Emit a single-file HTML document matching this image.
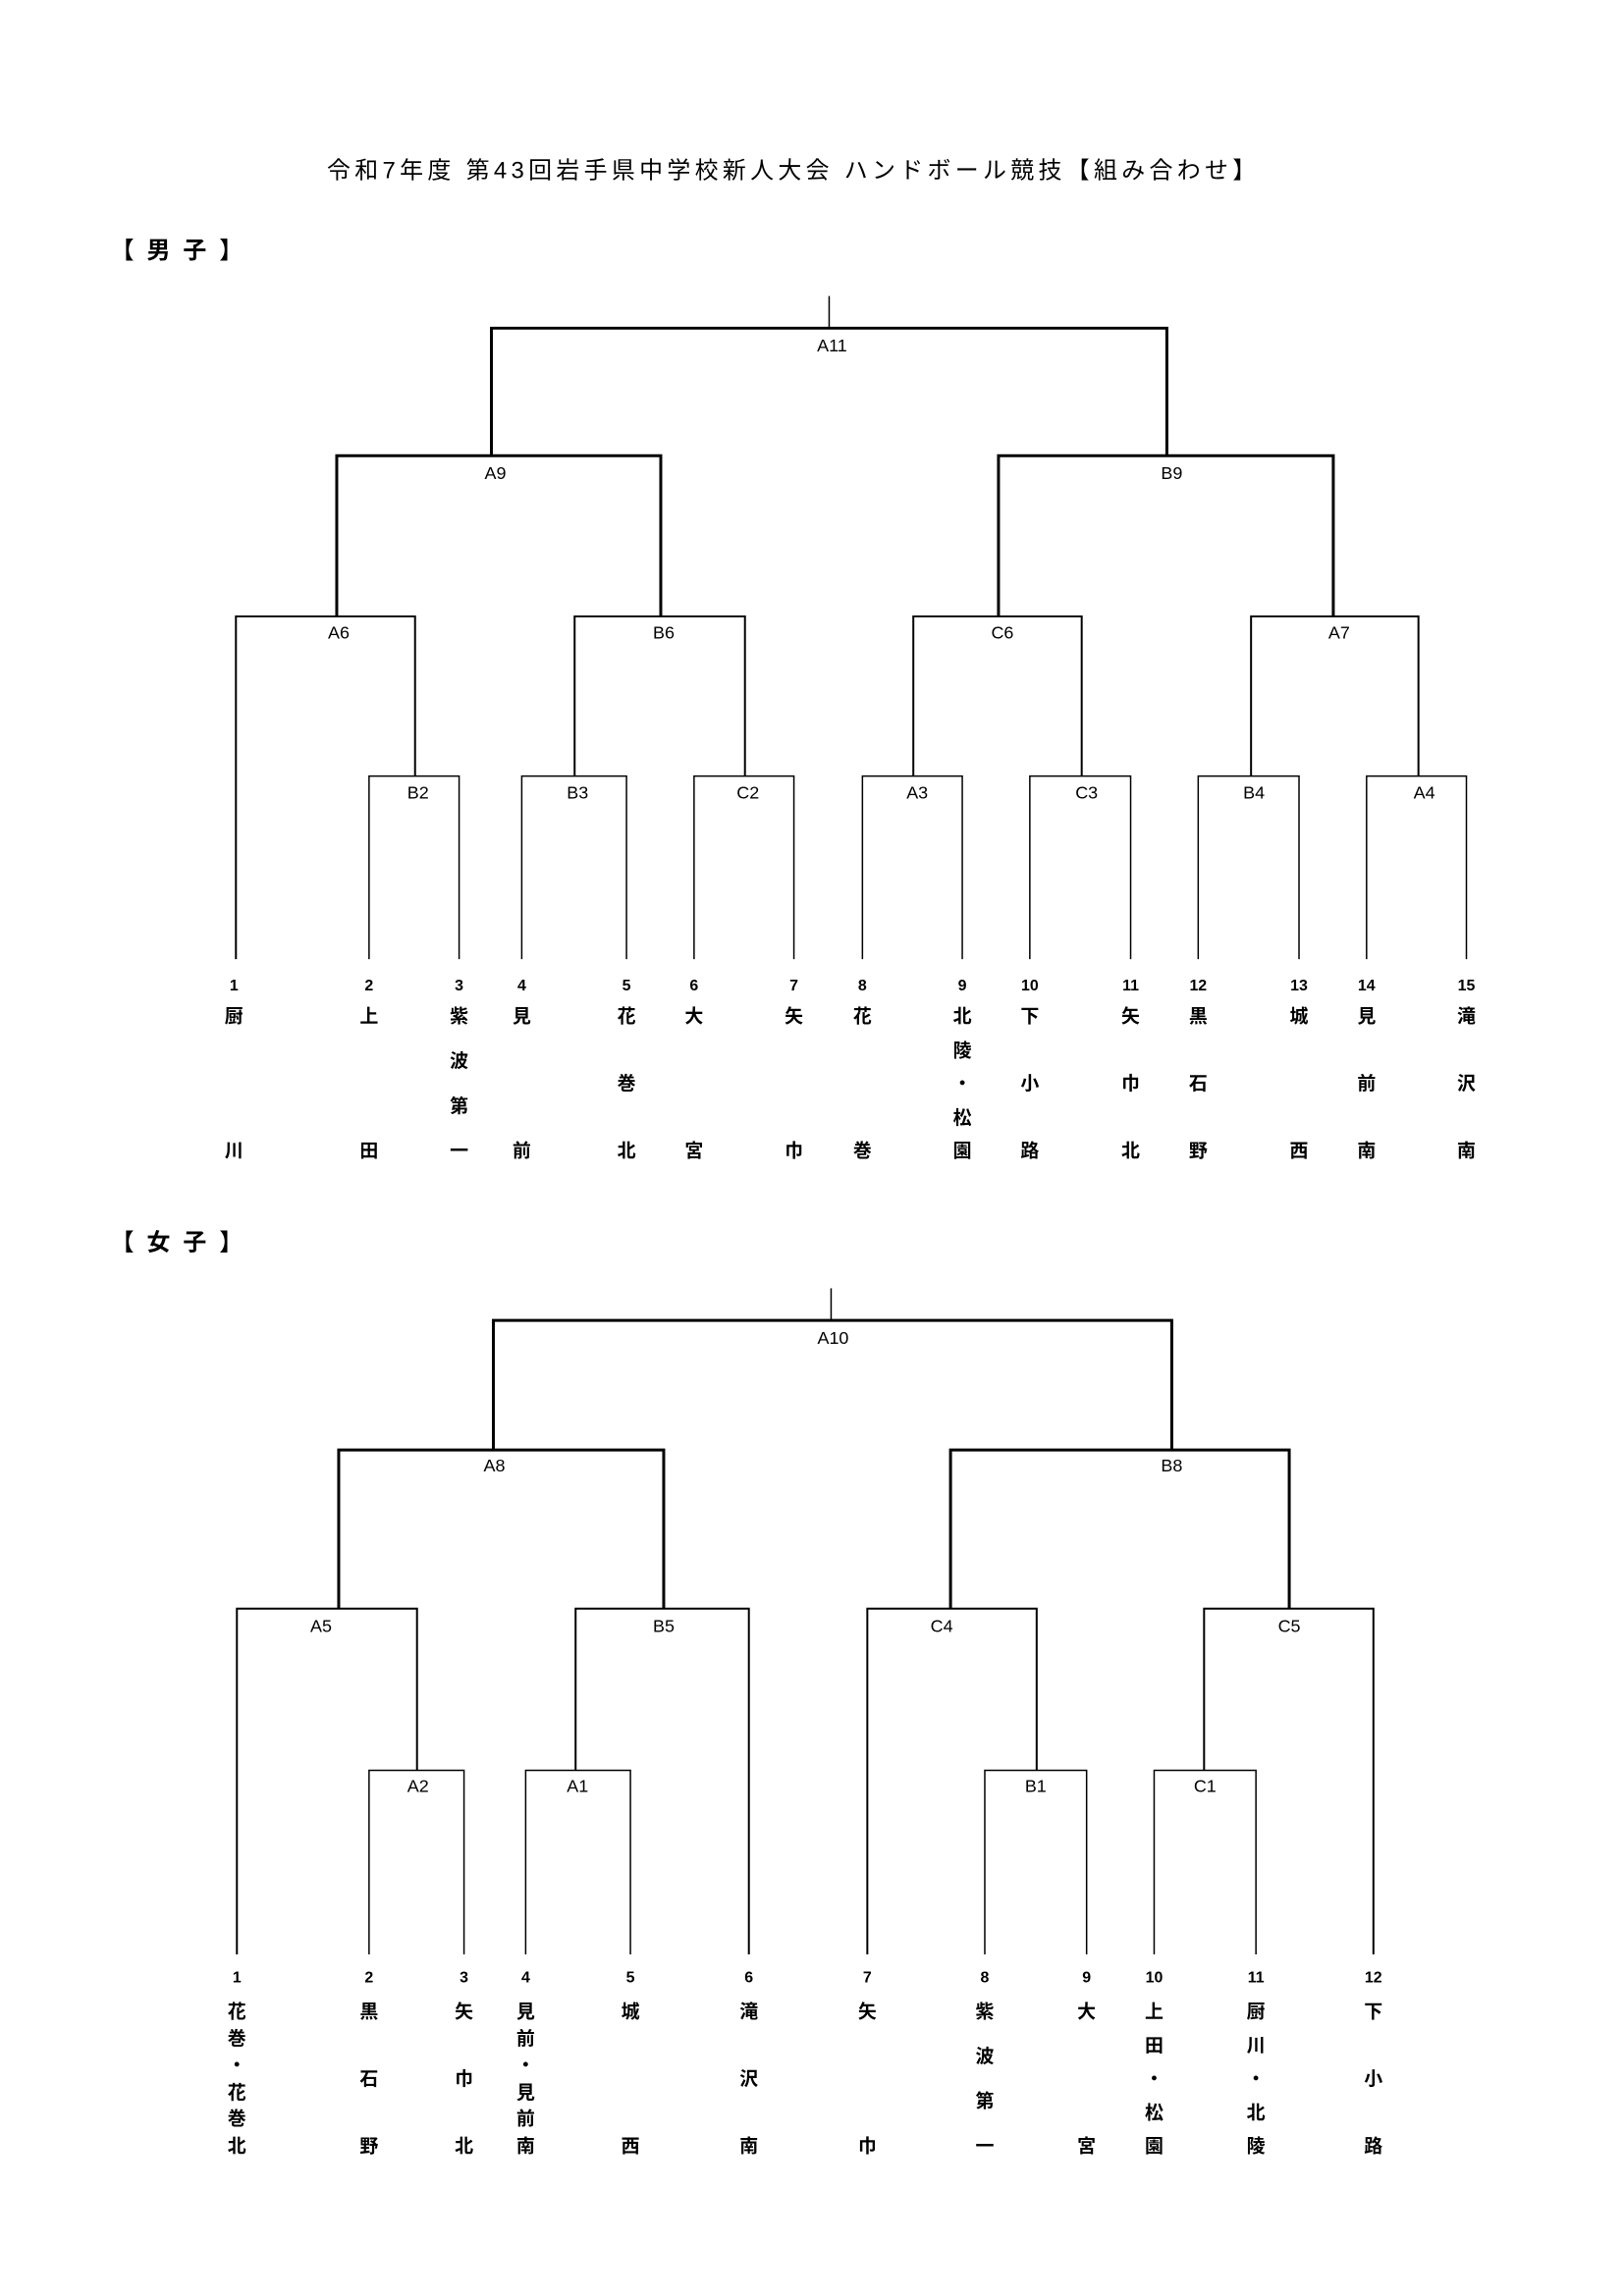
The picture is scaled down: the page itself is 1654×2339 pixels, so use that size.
<!DOCTYPE html>
<html><head><meta charset="utf-8"><style>
body{margin:0;background:#fff;}
#o{position:relative;width:1654px;height:2339px;overflow:hidden;}
#p{position:absolute;left:0;top:0;width:1654px;height:2339px;transform:scale(0.997,0.992);transform-origin:0 0;font-family:"Liberation Sans","Noto Sans CJK JP",sans-serif;color:#000;}
svg{position:absolute;left:0;top:0;}
.n{position:absolute;width:30px;margin-left:-15px;height:160px;display:flex;flex-direction:column;justify-content:space-between;align-items:center;font-size:19px;line-height:22px;font-weight:bold;}
.g{top:2056px}.b{top:1034px}
</style></head><body><div id="o"><div id="p">
<svg width="1654" height="2339" font-family="Liberation Sans, Noto Sans CJK JP, sans-serif">
<text x="334" y="183" font-size="24" textLength="949" lengthAdjust="spacing">令和7年度  第43回岩手県中学校新人大会  ハンドボール競技【組み合わせ】</text>
<text x="113" y="265" font-size="24" font-weight="bold" textLength="135" lengthAdjust="spacing">【 男 子 】</text>
<text x="113" y="1284" font-size="24" font-weight="bold" textLength="135" lengthAdjust="spacing">【 女 子 】</text>
<g fill="none" stroke="#000" stroke-width="2">
<path d="M847 304V337" stroke-width="1.5"/>
<path d="M502 468V337H1192V468" stroke-width="3"/>
<path d="M344 633V468H675V633M1020 633V468H1362V633" stroke-width="3"/>
<path d="M241 985V633H424V797M587 797V633H761V797M933 797V633H1105V797M1278 797V633H1449V797"/>
<path d="M377 985V797H469V985M533 985V797H640V985M709 985V797H811V985M881 985V797H983V985M1052 985V797H1155V985M1224 985V797H1327V985M1396 985V797H1498V985" stroke-width="1.5"/>
<path d="M849 1323V1356" stroke-width="1.5"/>
<path d="M504 1489V1356H1197V1489" stroke-width="3"/>
<path d="M346 1652V1489H678V1652M971 1652V1489H1317V1652" stroke-width="3"/>
<path d="M242 2007V1652H426V1818M588 1818V1652H765V2007M886 2007V1652H1059V1818M1230 1818V1652H1403V2007"/>
<path d="M377 2007V1818H474V2007M537 2007V1818H644V2007M1006 2007V1818H1110V2007M1179 2007V1818H1283V2007" stroke-width="1.5"/>
</g>
<g font-size="18" text-anchor="middle">
<text x="850" y="361">A11</text>
<text x="506" y="492">A9</text><text x="1197" y="492">B9</text>
<text x="346" y="656">A6</text><text x="678" y="656">B6</text><text x="1024" y="656">C6</text><text x="1368" y="656">A7</text>
<text x="427" y="820">B2</text><text x="590" y="820">B3</text><text x="764" y="820">C2</text><text x="937" y="820">A3</text><text x="1110" y="820">C3</text><text x="1281" y="820">B4</text><text x="1455" y="820">A4</text>
<text x="851" y="1380">A10</text>
<text x="505" y="1511">A8</text><text x="1197" y="1511">B8</text>
<text x="328" y="1676">A5</text><text x="678" y="1676">B5</text><text x="962" y="1676">C4</text><text x="1317" y="1676">C5</text>
<text x="427" y="1840">A2</text><text x="590" y="1840">A1</text><text x="1058" y="1840">B1</text><text x="1231" y="1840">C1</text>
</g>
<g font-size="16" font-weight="bold" text-anchor="middle">
<text x="239" y="1017">1</text><text x="377" y="1017">2</text><text x="469" y="1017">3</text><text x="533" y="1017">4</text><text x="640" y="1017">5</text><text x="709" y="1017">6</text><text x="811" y="1017">7</text><text x="881" y="1017">8</text><text x="983" y="1017">9</text><text x="1052" y="1017">10</text><text x="1155" y="1017">11</text><text x="1224" y="1017">12</text><text x="1327" y="1017">13</text><text x="1396" y="1017">14</text><text x="1498" y="1017">15</text>
<text x="242" y="2036">1</text><text x="377" y="2036">2</text><text x="474" y="2036">3</text><text x="537" y="2036">4</text><text x="644" y="2036">5</text><text x="765" y="2036">6</text><text x="886" y="2036">7</text><text x="1006" y="2036">8</text><text x="1110" y="2036">9</text><text x="1179" y="2036">10</text><text x="1283" y="2036">11</text><text x="1403" y="2036">12</text>
</g>
</svg>
<div class="n b" style="left:239px"><span>厨</span><span>川</span></div>
<div class="n b" style="left:377px"><span>上</span><span>田</span></div>
<div class="n b" style="left:469px"><span>紫</span><span>波</span><span>第</span><span>一</span></div>
<div class="n b" style="left:533px"><span>見</span><span>前</span></div>
<div class="n b" style="left:640px"><span>花</span><span>巻</span><span>北</span></div>
<div class="n b" style="left:709px"><span>大</span><span>宮</span></div>
<div class="n b" style="left:811px"><span>矢</span><span>巾</span></div>
<div class="n b" style="left:881px"><span>花</span><span>巻</span></div>
<div class="n b" style="left:983px"><span>北</span><span>陵</span><span>・</span><span>松</span><span>園</span></div>
<div class="n b" style="left:1052px"><span>下</span><span>小</span><span>路</span></div>
<div class="n b" style="left:1155px"><span>矢</span><span>巾</span><span>北</span></div>
<div class="n b" style="left:1224px"><span>黒</span><span>石</span><span>野</span></div>
<div class="n b" style="left:1327px"><span>城</span><span>西</span></div>
<div class="n b" style="left:1396px"><span>見</span><span>前</span><span>南</span></div>
<div class="n b" style="left:1498px"><span>滝</span><span>沢</span><span>南</span></div>
<div class="n g" style="left:242px"><span>花</span><span>巻</span><span>・</span><span>花</span><span>巻</span><span>北</span></div>
<div class="n g" style="left:377px"><span>黒</span><span>石</span><span>野</span></div>
<div class="n g" style="left:474px"><span>矢</span><span>巾</span><span>北</span></div>
<div class="n g" style="left:537px"><span>見</span><span>前</span><span>・</span><span>見</span><span>前</span><span>南</span></div>
<div class="n g" style="left:644px"><span>城</span><span>西</span></div>
<div class="n g" style="left:765px"><span>滝</span><span>沢</span><span>南</span></div>
<div class="n g" style="left:886px"><span>矢</span><span>巾</span></div>
<div class="n g" style="left:1006px"><span>紫</span><span>波</span><span>第</span><span>一</span></div>
<div class="n g" style="left:1110px"><span>大</span><span>宮</span></div>
<div class="n g" style="left:1179px"><span>上</span><span>田</span><span>・</span><span>松</span><span>園</span></div>
<div class="n g" style="left:1283px"><span>厨</span><span>川</span><span>・</span><span>北</span><span>陵</span></div>
<div class="n g" style="left:1403px"><span>下</span><span>小</span><span>路</span></div>
</div></div></body></html>
